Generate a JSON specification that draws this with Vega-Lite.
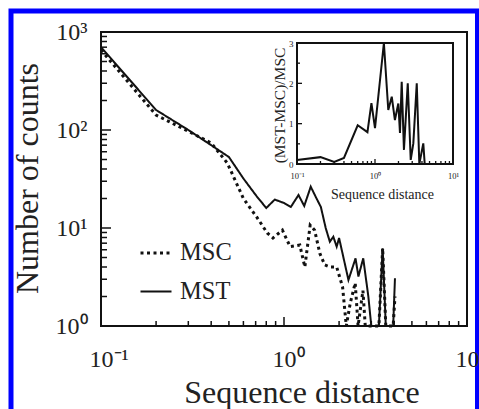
{
  "$schema": "https://vega.github.io/schema/vega-lite/v6.json",
  "width": 466.5,
  "height": 410,
  "autosize": {"type": "none"},
  "padding": {"left": 11, "top": 11, "right": 2, "bottom": 0},
  "background": "white",
  "config": {
    "view": {"stroke": "#0000ff", "strokeWidth": 5, "fill": "white"},
    "font": "Liberation Serif",
    "axis": {
      "labelFont": "Liberation Serif", "titleFont": "Liberation Serif", "titleFontWeight": "normal",
      "labelColor": "#222", "titleColor": "#222", "domain": false, "grid": false, "ticks": false,
      "labelFlush": false, "labelOverlap": false, "labelBound": false
    },
    "legend": {"labelFont": "Liberation Serif", "labelColor": "#222", "padding": 0}
  },
  "datasets": {
    "main": [
      {"series": "MST", "x": 0.1, "y": 700}, {"series": "MST", "x": 0.2, "y": 160}, {"series": "MST", "x": 0.3, "y": 100},
      {"series": "MST", "x": 0.4, "y": 70}, {"series": "MST", "x": 0.5, "y": 53}, {"series": "MST", "x": 0.6, "y": 32},
      {"series": "MST", "x": 0.71, "y": 21}, {"series": "MST", "x": 0.8, "y": 16}, {"series": "MST", "x": 0.89, "y": 19.5},
      {"series": "MST", "x": 1.0, "y": 18}, {"series": "MST", "x": 1.09, "y": 16.4}, {"series": "MST", "x": 1.2, "y": 21.7},
      {"series": "MST", "x": 1.29, "y": 16.8}, {"series": "MST", "x": 1.4, "y": 26.4}, {"series": "MST", "x": 1.5, "y": 20.3},
      {"series": "MST", "x": 1.59, "y": 16.4}, {"series": "MST", "x": 1.69, "y": 10}, {"series": "MST", "x": 1.78, "y": 7.25},
      {"series": "MST", "x": 1.86, "y": 8.15}, {"series": "MST", "x": 1.94, "y": 6.45}, {"series": "MST", "x": 2.0, "y": 7.9},
      {"series": "MST", "x": 2.25, "y": 2.95}, {"series": "MST", "x": 2.46, "y": 4.9}, {"series": "MST", "x": 2.55, "y": 3.2},
      {"series": "MST", "x": 2.71, "y": 4.9}, {"series": "MST", "x": 2.89, "y": 2.0}, {"series": "MST", "x": 3.0, "y": 1},
      {"series": "MST", "x": 3.3, "y": 1}, {"series": "MST", "x": 3.46, "y": 6.2}, {"series": "MST", "x": 3.6, "y": 1},
      {"series": "MST", "x": 3.95, "y": 1}, {"series": "MST", "x": 4.04, "y": 3.07},
      {"series": "MSC", "x": 0.1, "y": 655}, {"series": "MSC", "x": 0.2, "y": 142}, {"series": "MSC", "x": 0.3, "y": 97},
      {"series": "MSC", "x": 0.4, "y": 73.7}, {"series": "MSC", "x": 0.49, "y": 46}, {"series": "MSC", "x": 0.6, "y": 20},
      {"series": "MSC", "x": 0.71, "y": 12.9}, {"series": "MSC", "x": 0.81, "y": 8.9}, {"series": "MSC", "x": 0.87, "y": 7.9},
      {"series": "MSC", "x": 0.98, "y": 9.5}, {"series": "MSC", "x": 1.08, "y": 6.45}, {"series": "MSC", "x": 1.22, "y": 6.7},
      {"series": "MSC", "x": 1.3, "y": 4.0}, {"series": "MSC", "x": 1.39, "y": 10.7}, {"series": "MSC", "x": 1.47, "y": 9.5},
      {"series": "MSC", "x": 1.57, "y": 5.5}, {"series": "MSC", "x": 1.67, "y": 4.2}, {"series": "MSC", "x": 1.78, "y": 4.0},
      {"series": "MSC", "x": 1.94, "y": 4.0}, {"series": "MSC", "x": 2.01, "y": 3.2}, {"series": "MSC", "x": 2.09, "y": 2.5},
      {"series": "MSC", "x": 2.19, "y": 1}, {"series": "MSC", "x": 2.3, "y": 1.7}, {"series": "MSC", "x": 2.45, "y": 2.75},
      {"series": "MSC", "x": 2.54, "y": 1}, {"series": "MSC", "x": 2.7, "y": 2.3}, {"series": "MSC", "x": 2.78, "y": 1},
      {"series": "MSC", "x": 3.3, "y": 1}, {"series": "MSC", "x": 3.46, "y": 6.2}, {"series": "MSC", "x": 3.6, "y": 1},
      {"series": "MSC", "x": 3.95, "y": 1}, {"series": "MSC", "x": 4.04, "y": 2.0}
    ],
    "inset": [
      {"x": 0.1, "v": 0.1}, {"x": 0.2, "v": 0.17}, {"x": 0.3, "v": 0.05}, {"x": 0.4, "v": 0.15},
      {"x": 0.6, "v": 0.96}, {"x": 0.8, "v": 0.79}, {"x": 0.9, "v": 1.51}, {"x": 1.0, "v": 0.89},
      {"x": 1.3, "v": 3.0}, {"x": 1.48, "v": 1.34}, {"x": 1.64, "v": 1.67}, {"x": 1.8, "v": 1.09},
      {"x": 1.99, "v": 1.5}, {"x": 2.09, "v": 0.77}, {"x": 2.2, "v": 2.04}, {"x": 2.35, "v": 0.35},
      {"x": 2.63, "v": 2.0}, {"x": 2.87, "v": 0.1}, {"x": 3.1, "v": 0.51}, {"x": 3.43, "v": 2.0},
      {"x": 3.7, "v": 0}, {"x": 4.16, "v": 0.51}, {"x": 4.34, "v": 0}
    ],
    "logMinorX": [
      {"t": 0.2}, {"t": 0.3}, {"t": 0.4}, {"t": 0.5}, {"t": 0.6}, {"t": 0.7}, {"t": 0.8}, {"t": 0.9},
      {"t": 2}, {"t": 3}, {"t": 4}, {"t": 5}, {"t": 6}, {"t": 7}, {"t": 8}, {"t": 9}
    ],
    "logMajorX": [{"t": 1}],
    "logMinorY": [
      {"t": 2}, {"t": 3}, {"t": 4}, {"t": 5}, {"t": 6}, {"t": 7}, {"t": 8}, {"t": 9},
      {"t": 20}, {"t": 30}, {"t": 40}, {"t": 50}, {"t": 60}, {"t": 70}, {"t": 80}, {"t": 90},
      {"t": 200}, {"t": 300}, {"t": 400}, {"t": 500}, {"t": 600}, {"t": 700}, {"t": 800}, {"t": 900}
    ],
    "logMajorY": [{"t": 10}, {"t": 100}],
    "linMinorY": [{"t": 0.5}, {"t": 1.5}, {"t": 2.5}],
    "linMajorY": [{"t": 1}, {"t": 2}]
  },
  "layer": [
    {
      "layer": [
        {
          "data": {"values": [{}]},
          "mark": {"type": "rect", "fill": "transparent", "stroke": "#111", "strokeWidth": 2},
          "encoding": {
            "x": {"datum": 0.1, "type": "quantitative"},
            "x2": {"datum": 10},
            "y": {"datum": 1, "type": "quantitative"},
            "y2": {"datum": 1000}
          }
        },
        {
          "data": {"name": "main"},
          "mark": {"type": "line", "color": "#111"},
          "encoding": {
            "x": {
              "field": "x", "type": "quantitative",
              "scale": {"type": "log", "domain": [0.1, 10], "range": [90, 456], "nice": false},
              "axis": {
                "orient": "bottom", "offset": -95,
                "values": [0.1, 1, 10],
                "labelExpr": "datum.value == 0.1 ? '10⁻¹' : datum.value == 1 ? '10⁰' : '10¹'",
                "labelFontSize": 24, "labelAlign": "left", "labelOffset": -12, "labelBaseline": "top", "labelPadding": 21,
                "title": "Sequence distance", "titleFontSize": 32, "titleX": 290.5, "titleY": 76,
                "titleAlign": "center", "titleBaseline": "alphabetic", "titleAngle": 0
              }
            },
            "y": {
              "field": "y", "type": "quantitative",
              "scale": {"type": "log", "domain": [1, 1000], "range": [315, 21], "nice": false},
              "axis": {
                "orient": "left", "offset": -90,
                "values": [1, 10, 100, 1000],
                "labelExpr": "datum.value == 1 ? '10⁰' : datum.value == 10 ? '10¹' : datum.value == 100 ? '10²' : '10³'",
                "labelFontSize": 24, "labelAlign": "right", "labelBaseline": "middle", "labelPadding": 14,
                "title": "Number of counts", "titleFontSize": 32, "titleX": -64, "titleY": 167,
                "titleAlign": "center", "titleBaseline": "alphabetic", "titleAngle": 270
              }
            },
            "strokeDash": {
              "field": "series", "type": "nominal",
              "scale": {"domain": ["MSC", "MST"], "range": [[3, 3.5], [1, 0]]},
              "legend": {
                "orient": "none", "legendX": 128, "legendY": 225, "title": null,
                "symbolType": "stroke", "symbolSize": 961, "symbolStrokeWidth": 2.5, "symbolStrokeColor": "#111",
                "labelFontSize": 24.5, "labelOffset": 7, "rowPadding": 10
              }
            },
            "strokeWidth": {
              "field": "series", "type": "nominal",
              "scale": {"domain": ["MSC", "MST"], "range": [3, 2]},
              "legend": null
            }
          }
        },
        {
          "data": {"name": "logMinorX"},
          "mark": {"type": "tick", "orient": "vertical", "size": 5, "thickness": 1.5, "yOffset": -2.5, "color": "#111", "opacity": 1},
          "encoding": {"x": {"field": "t", "type": "quantitative"}, "y": {"datum": 1, "type": "quantitative"}}
        },
        {
          "data": {"name": "logMajorX"},
          "mark": {"type": "tick", "orient": "vertical", "size": 9, "thickness": 1.5, "yOffset": -4.5, "color": "#111", "opacity": 1},
          "encoding": {"x": {"field": "t", "type": "quantitative"}, "y": {"datum": 1, "type": "quantitative"}}
        },
        {
          "data": {"name": "logMinorY"},
          "mark": {"type": "tick", "orient": "horizontal", "size": 6, "thickness": 1.5, "xOffset": 3, "color": "#111", "opacity": 1},
          "encoding": {"y": {"field": "t", "type": "quantitative"}, "x": {"datum": 0.1, "type": "quantitative"}}
        },
        {
          "data": {"name": "logMajorY"},
          "mark": {"type": "tick", "orient": "horizontal", "size": 10, "thickness": 1.5, "xOffset": 5, "color": "#111", "opacity": 1},
          "encoding": {"y": {"field": "t", "type": "quantitative"}, "x": {"datum": 0.1, "type": "quantitative"}}
        }
      ]
    },
    {
      "layer": [
        {
          "data": {"values": [{}]},
          "mark": {"type": "rect", "fill": "white", "stroke": "#111", "strokeWidth": 2},
          "encoding": {
            "x": {"datum": 0.1, "type": "quantitative"},
            "x2": {"datum": 10},
            "y": {"datum": 0, "type": "quantitative"},
            "y2": {"datum": 3}
          }
        },
        {
          "data": {"name": "inset"},
          "mark": {"type": "line", "color": "#111", "strokeWidth": 2},
          "encoding": {
            "x": {
              "field": "x", "type": "quantitative",
              "scale": {"type": "log", "domain": [0.1, 10], "range": [286, 442], "nice": false},
              "axis": {
                "orient": "bottom", "offset": -257,
                "values": [0.1, 1, 10],
                "labelExpr": "datum.value == 0.1 ? '10⁻¹' : datum.value == 1 ? '10⁰' : '10¹'",
                "labelFontSize": 8.5, "labelAlign": "center", "labelBaseline": "middle", "labelPadding": 11,
                "title": "Sequence distance", "titleFontSize": 14, "titleX": 371, "titleY": 34,
                "titleAlign": "center", "titleBaseline": "alphabetic", "titleAngle": 0
              }
            },
            "y": {
              "field": "v", "type": "quantitative",
              "scale": {"type": "linear", "domain": [0, 3], "range": [153, 32], "nice": false, "zero": false},
              "axis": {
                "orient": "left", "offset": -286,
                "values": [0, 1, 2, 3],
                "labelExpr": "format(datum.value, 'd')",
                "labelFontSize": 9, "labelAlign": "right", "labelBaseline": "middle", "labelPadding": 4,
                "title": "(MST-MSC)/MSC", "titleFontSize": 15.5, "titleX": -13, "titleY": 94,
                "titleAlign": "center", "titleBaseline": "alphabetic", "titleAngle": 270
              }
            }
          }
        },
        {
          "data": {"name": "logMinorX"},
          "mark": {"type": "tick", "orient": "vertical", "size": 3, "thickness": 1.3, "yOffset": -1.5, "color": "#111", "opacity": 1},
          "encoding": {"x": {"field": "t", "type": "quantitative"}, "y": {"datum": 0, "type": "quantitative"}}
        },
        {
          "data": {"name": "logMajorX"},
          "mark": {"type": "tick", "orient": "vertical", "size": 5, "thickness": 1.3, "yOffset": -2.5, "color": "#111", "opacity": 1},
          "encoding": {"x": {"field": "t", "type": "quantitative"}, "y": {"datum": 0, "type": "quantitative"}}
        },
        {
          "data": {"name": "linMinorY"},
          "mark": {"type": "tick", "orient": "horizontal", "size": 3, "thickness": 1.3, "xOffset": 1.5, "color": "#111", "opacity": 1},
          "encoding": {"y": {"field": "t", "type": "quantitative"}, "x": {"datum": 0.1, "type": "quantitative"}}
        },
        {
          "data": {"name": "linMajorY"},
          "mark": {"type": "tick", "orient": "horizontal", "size": 5, "thickness": 1.3, "xOffset": 2.5, "color": "#111", "opacity": 1},
          "encoding": {"y": {"field": "t", "type": "quantitative"}, "x": {"datum": 0.1, "type": "quantitative"}}
        }
      ]
    }
  ],
  "resolve": {
    "scale": {"x": "independent", "y": "independent"},
    "axis": {"x": "independent", "y": "independent"}
  }
}
